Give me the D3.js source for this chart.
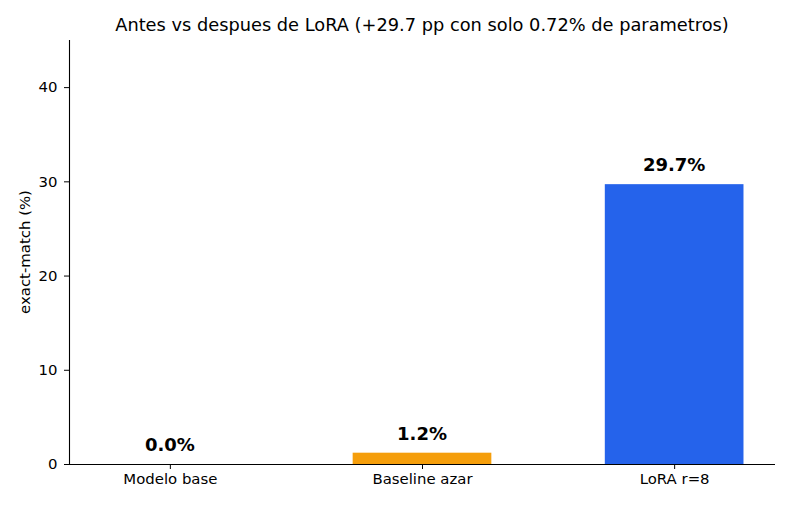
<!DOCTYPE html>
<html>
<head>
<meta charset="utf-8">
<script src="https://cdn.jsdelivr.net/npm/d3@7"></script>
<style>
  html, body { margin: 0; padding: 0; background: #fff; }
  svg { display: block; font-family: "DejaVu Sans", sans-serif; }
</style>
</head>
<body>
<div id="chart"></div>
<script>
const categories = ["Modelo base", "Baseline azar", "LoRA r=8"];
const values = [0.0, 1.2, 29.7];
const barColors = ["#9ca3af", "#f59e0b", "#2563eb"];
const yTicks = [0, 10, 20, 30, 40];
const titleText = "Antes vs despues de LoRA (+29.7 pp con solo 0.72% de parametros)";
const yLabelText = "exact-match (%)";

const W = 792, H = 506;
const margin = { left: 69, right: 17, top: 40, bottom: 42 };
const iw = W - margin.left - margin.right;
const ih = H - margin.top - margin.bottom;

const svg = d3.select("#chart").append("svg").attr("width", W).attr("height", H);
const g = svg.append("g").attr("transform", `translate(${margin.left},${margin.top})`);

const x = d3.scaleLinear().domain([-0.4, 2.4]).range([0, iw]);
const y = d3.scaleLinear().domain([0, 45]).range([ih, 0]);
const bw = 0.55;

g.selectAll("rect.bar").data(values).enter().append("rect")
  .attr("class", "bar")
  .attr("x", (d, i) => x(i - bw / 2))
  .attr("width", (d, i) => x(i + bw / 2) - x(i - bw / 2))
  .attr("y", d => y(d))
  .attr("height", d => y(0) - y(d))
  .attr("fill", (d, i) => barColors[i]);

g.selectAll("text.val").data(values).enter().append("text")
  .attr("class", "val")
  .attr("x", (d, i) => x(i))
  .attr("y", d => y(d) - 13)
  .attr("text-anchor", "middle")
  .attr("font-size", "18px")
  .attr("font-weight", "bold")
  .attr("fill", "#000")
  .text(d => d.toFixed(1) + "%");

// y axis
const yAxis = g.append("g").call(d3.axisLeft(y).tickValues(yTicks).tickSize(5).tickPadding(6.5));
yAxis.selectAll("text").attr("font-size", "14.9px").attr("fill", "#000").attr("font-family", "DejaVu Sans");
yAxis.selectAll("line").attr("stroke", "#000").attr("stroke-width", 1);
yAxis.select(".domain").attr("stroke", "#000").attr("stroke-width", 1.1).attr("d", `M0.5,${ih}V0`);

// x axis
const xAxis = g.append("g").attr("transform", `translate(0,${ih})`)
  .call(d3.axisBottom(x).tickValues([0, 1, 2]).tickFormat(i => categories[i]).tickSize(5).tickPadding(4.3));
xAxis.selectAll("text").attr("font-size", "14.9px").attr("fill", "#000").attr("font-family", "DejaVu Sans");
xAxis.selectAll("line").attr("stroke", "#000").attr("stroke-width", 1);
xAxis.select(".domain").attr("stroke", "#000").attr("stroke-width", 1.1).attr("d", `M0,0.5H${iw}`);

// title
svg.append("text")
  .attr("x", margin.left + iw / 2)
  .attr("y", 31)
  .attr("text-anchor", "middle")
  .attr("font-size", "17.8px")
  .attr("fill", "#000")
  .text(titleText);

// y label
svg.append("text")
  .attr("transform", `translate(30,${margin.top + ih / 2}) rotate(-90)`)
  .attr("text-anchor", "middle")
  .attr("font-size", "14.9px")
  .attr("fill", "#000")
  .text(yLabelText);
</script>
</body>
</html>
